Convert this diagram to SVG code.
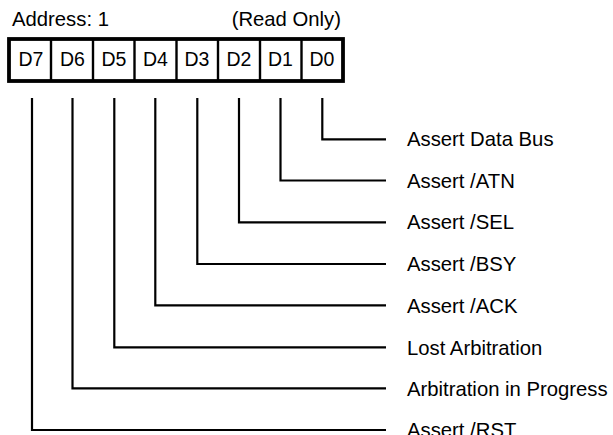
<svg xmlns="http://www.w3.org/2000/svg" width="613" height="435" viewBox="0 0 613 435">
<style>
text{font-family:"Liberation Sans",Arial,sans-serif;fill:#000}
.lbl{font-size:20.3px}
.cell{font-size:19.5px;text-anchor:middle}
.ln{fill:none;stroke:#000;stroke-width:2.2}
</style>
<rect width="613" height="435" fill="#fff"/>
<g id="header">
<text class="lbl" x="12" y="26">Address: 1</text>
<text class="lbl" x="341" y="26" text-anchor="end">(Read Only)</text>
</g>
<g id="register">
<rect x="9" y="39" width="334" height="42" fill="#fff" stroke="#000" stroke-width="3.8"/>
<g stroke="#000" stroke-width="2.4">
<line x1="51" y1="39" x2="51" y2="81"/>
<line x1="93" y1="39" x2="93" y2="81"/>
<line x1="134.5" y1="39" x2="134.5" y2="81"/>
<line x1="176.5" y1="39" x2="176.5" y2="81"/>
<line x1="218" y1="39" x2="218" y2="81"/>
<line x1="260" y1="39" x2="260" y2="81"/>
<line x1="301.5" y1="39" x2="301.5" y2="81"/>
</g>
<text class="cell" x="31" y="65.5">D7</text>
<text class="cell" x="72.5" y="65.5">D6</text>
<text class="cell" x="114" y="65.5">D5</text>
<text class="cell" x="155.5" y="65.5">D4</text>
<text class="cell" x="197" y="65.5">D3</text>
<text class="cell" x="239" y="65.5">D2</text>
<text class="cell" x="280.5" y="65.5">D1</text>
<text class="cell" x="322" y="65.5">D0</text>
</g>
<g id="connectors">
<polyline class="ln" points="322.3,98 322.3,139.3 386,139.3"/>
<polyline class="ln" points="280.5,98 280.5,180.5 386,180.5"/>
<polyline class="ln" points="239,98 239,222.3 386,222.3"/>
<polyline class="ln" points="197.3,98 197.3,264 386,264"/>
<polyline class="ln" points="155.3,98 155.3,305.3 386,305.3"/>
<polyline class="ln" points="114.3,98 114.3,347.3 386,347.3"/>
<polyline class="ln" points="72.5,98 72.5,388.3 386,388.3"/>
<polyline class="ln" points="32,98 32,430 386,430"/>
</g>
<g id="labels">
<text class="lbl" x="407" y="146">Assert Data Bus</text>
<text class="lbl" x="407" y="187.5">Assert /ATN</text>
<text class="lbl" x="407" y="229">Assert /SEL</text>
<text class="lbl" x="407" y="271">Assert /BSY</text>
<text class="lbl" x="407" y="312.5">Assert /ACK</text>
<text class="lbl" x="407" y="354.5">Lost Arbitration</text>
<text class="lbl" x="407" y="396">Arbitration in Progress</text>
<text class="lbl" x="407" y="436.5">Assert /RST</text>
</g>
</svg>
